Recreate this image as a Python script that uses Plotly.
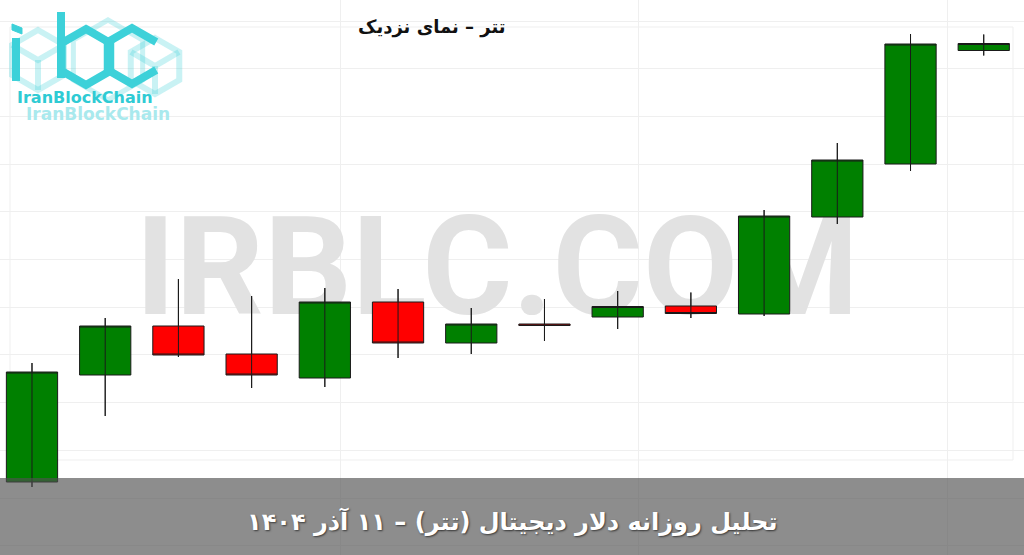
import plotly.graph_objects as go

# ---------------- data (Toman) ----------------
days = list(range(14))
open_ = [108840, 110980, 111960, 111400, 110920, 112440, 111620, 112000, 112140, 112360, 112200, 114140, 115200, 117470]
high = [111220, 112120, 112900, 112560, 112720, 112700, 112320, 112500, 112660, 112630, 114280, 115620, 117800, 117790]
low = [108740, 110160, 111340, 110720, 110740, 111320, 111400, 111660, 111900, 112120, 112160, 114000, 115060, 117370]
close = [111040, 111960, 111380, 110980, 112440, 111620, 112000, 111970, 112350, 112210, 114160, 115280, 117600, 117610]

title_text = "تتر – نمای نزدیک"
banner_text = "تحلیل روزانه دلار دیجیتال (تتر) – ۱۱ آذر ۱۴۰۴"
watermark_text = "IRBLC.COM"
logo_text = "IranBlockChain"

W, H = 1024, 555


def px(x):
    return x / W


def py(y):
    return 1 - y / H


fig = go.Figure()

# watermark on an underlying axis (drawn beneath candles)
fig.add_trace(go.Scatter(
    x=[497], y=[279], mode="text", text=["<b>" + watermark_text + "</b>"],
    textfont=dict(family="Roboto", size=138, color="#e2e2e2", weight=900),
    hoverinfo="skip", showlegend=False, xaxis="x", yaxis="y"))

# candles on overlaying axes
fig.add_trace(go.Candlestick(
    x=days, open=open_, high=high, low=low, close=close,
    increasing=dict(fillcolor="#008000", line=dict(color="#1a1a1a", width=1)),
    decreasing=dict(fillcolor="#ff0000", line=dict(color="#1a1a1a", width=1)),
    whiskerwidth=0, showlegend=False, xaxis="x2", yaxis="y2"))

# wick through the body
wx, wy = [], []
for d, lo, hi in zip(days, low, high):
    wx += [d, d, None]
    wy += [lo, hi, None]
fig.add_trace(go.Scatter(x=wx, y=wy, mode="lines", line=dict(color="#1a1a1a", width=1),
                         hoverinfo="skip", showlegend=False, xaxis="x2", yaxis="y2"))

shapes = []
# faint frame
shapes.append(dict(type="rect", xref="paper", yref="paper", x0=px(10), x1=px(1013), y0=py(460), y1=py(27),
                   line=dict(color="#efefef", width=1), layer="below"))

# ---- logo (decorative hexagon strokes) ----
C = "#3dd1d9"
CL = "rgba(61,209,217,0.28)"


def hex_pts(cx, cy, r):
    k = 0.866 * r
    return [(cx, cy - r), (cx + k, cy - r / 2), (cx + k, cy + r / 2), (cx, cy + r),
            (cx - k, cy + r / 2), (cx - k, cy - r / 2)]


def path_from(pts, close_path=True):
    s = "M " + " L ".join(f"{px(x):.5f},{py(y):.5f}" for x, y in pts)
    return s + (" Z" if close_path else "")


def seg(pts, color, width, closed=False):
    shapes.append(dict(type="path", xref="paper", yref="paper", path=path_from(pts, closed),
                       line=dict(color=color, width=width)))


# pale background cubes
seg(hex_pts(155, 66, 28), CL, 6, True)
seg([(131, 52), (155, 66), (179, 52)], CL, 6)
seg([(155, 66), (155, 94)], CL, 6)
seg(hex_pts(38, 60, 30), CL, 6, True)
seg([(12, 45), (38, 60), (64, 45)], CL, 6)
seg([(38, 60), (38, 90)], CL, 6)
seg(hex_pts(108, 60, 40), CL, 5, True)

# i
shapes.append(dict(type="path", xref="paper", yref="paper",
                   path=path_from([(12, 24), (22, 28), (22, 34), (12, 30)]), fillcolor=C, line=dict(color=C, width=1)))
seg([(16, 38), (16, 81)], C, 8)
# b
seg([(61, 12), (61, 78)], C, 8)
seg(hex_pts(86, 57, 28), C, 8, True)
# c (open on the right)
cp = hex_pts(132, 56, 28)
seg([cp[1], cp[0], cp[5], cp[4], cp[3], cp[2]], C, 8)

# bottom banner
shapes.append(dict(type="rect", xref="paper", yref="paper", x0=0, x1=1, y0=0, y1=py(478),
                   fillcolor="rgba(80,80,80,0.65)", line=dict(width=0), layer="above"))

annotations = [
    dict(text=title_text, x=px(432), y=py(27), xref="paper", yref="paper", showarrow=False,
         xanchor="center", yanchor="middle",
         font=dict(family="DejaVu Sans", size=18, color="#111111", weight="bold")),
    dict(text=logo_text, x=px(85), y=py(98), xref="paper", yref="paper", showarrow=False,
         xanchor="center", yanchor="middle",
         font=dict(family="DejaVu Sans", size=16, color="#2fcbd4", weight="bold")),
    dict(text=logo_text, x=px(98), y=py(114), xref="paper", yref="paper", showarrow=False,
         xanchor="center", yanchor="middle",
         font=dict(family="DejaVu Sans", size=17, color="#a9e9ed", weight="bold")),
    dict(text=banner_text, x=0.5, y=py(521), xref="paper", yref="paper", showarrow=False,
         xanchor="center", yanchor="middle",
         font=dict(family="DejaVu Sans", size=24, color="white", weight="bold",
                   shadow="1px 1px 2px rgba(0,0,0,0.6)")),
]

fig.update_layout(
    width=W, height=H,
    margin=dict(l=0, r=0, t=0, b=0),
    paper_bgcolor="white", plot_bgcolor="white",
    showlegend=False,
    boxgap=0.3, boxgroupgap=0,
    xaxis=dict(range=[0, W], visible=False, showgrid=False, zeroline=False, fixedrange=True),
    yaxis=dict(range=[H, 0], visible=False, showgrid=False, zeroline=False, fixedrange=True),
    xaxis2=dict(overlaying="x", range=[-0.437, 13.55], showgrid=True, gridcolor="#efefef",
                tickmode="array", tickvals=[4.21, 8.28, 12.5], showticklabels=False,
                zeroline=False, rangeslider=dict(visible=False), ticks=""),
    yaxis2=dict(overlaying="y", range=[107380, 118480], showgrid=True, gridcolor="#efefef",
                tick0=118060, dtick=954, showticklabels=False, zeroline=False, ticks=""),
    shapes=shapes,
    annotations=annotations,
)

fig.write_html("out.html", config={"displayModeBar": False},
               post_script="document.body.style.margin='0';document.body.style.overflow='hidden';")
